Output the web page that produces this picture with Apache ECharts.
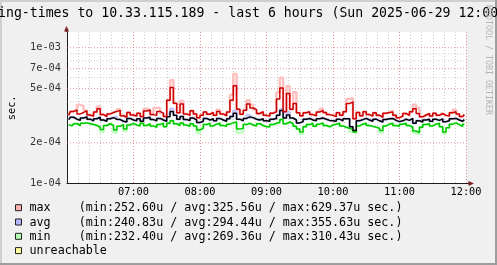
<!DOCTYPE html>
<html><head><meta charset="utf-8">
<script src="https://cdn.jsdelivr.net/npm/echarts@6/dist/echarts.min.js"></script>
<style>html,body{margin:0;padding:0;background:#f0f0f0}#c{width:497px;height:265px}</style>
</head><body><div id="c"></div>
<script>
// sample spacing in minutes from 06:00
const stepMinutes = 3;
// values in microseconds
const maxSeries = [
318,340,348,326,334,344,320,314,336,356,
322,312,326,334,340,346,316,308,334,320,
314,330,312,342,348,322,318,340,330,312,
410,510,390,332,385,326,318,344,326,306,
318,336,324,334,318,340,326,316,336,410,
525,352,324,346,385,360,350,328,338,318,
314,330,338,420,505,338,460,352,388,332,
316,332,338,322,316,336,346,334,322,318,
312,332,318,338,388,400,300,334,316,338,
322,314,332,318,308,330,334,336,318,306,
314,328,318,338,356,328,310,320,328,314,
330,318,328,318,314,332,338,326,312,322];
const avgSeries = [
296,308,298,292,304,310,298,290,300,308,
294,288,300,306,298,296,288,284,302,294,
290,300,288,304,308,296,290,302,294,288,
310,340,318,298,312,296,292,304,294,282,
288,302,294,300,290,302,294,288,300,312,
330,298,290,302,310,306,298,294,300,290,
288,298,302,318,345,304,320,304,294,280,
286,298,302,294,290,300,304,298,292,290,
288,298,290,300,300,262,246,290,296,302,
294,288,298,290,284,296,300,302,292,286,
290,298,292,302,278,290,284,294,298,288,
298,292,300,286,290,300,302,294,288,296];
const minSeries = [
272,266,276,268,278,280,276,272,268,260,
250,268,276,268,248,264,272,252,270,278,
270,266,278,268,276,266,260,272,278,262,
278,290,276,268,280,270,264,276,266,248,
256,272,278,266,274,278,268,264,274,280,
284,252,256,272,278,270,266,276,268,262,
262,272,278,282,296,276,284,276,264,252,
240,262,272,278,264,274,280,268,262,270,
274,278,266,260,256,250,240,266,274,278,
268,264,260,256,246,266,274,278,268,264,
274,278,268,260,244,238,260,272,276,266,
274,278,262,240,258,274,280,272,264,274];
// [sample index, value in µs] where the lighter shade reaches beyond the line
const maxPeaks = [[3,380],[4,372],[9,370],[15,352],[23,356],[26,362],[27,360],[31,575],[34,405],[45,350],[49,450],[50,640],[54,410],[55,380],[63,470],[64,600],[66,520],[68,470],[76,356],[84,420],[85,425],[97,345],[104,380],[105,360],[116,350]];
const avgPeaks = [[14,312],[30,325],[31,355],[50,345],[54,320],[64,352],[66,335]];
const minDips = [[10,240],[14,238],[17,244],[39,236],[51,238],[52,242],[70,232],[85,240],[86,234],[94,238],[104,236],[105,232],[113,234]];

const xTickLabels = ['06:00','07:00','08:00','09:00','10:00','11:00','12:00'];
const yMajorTicks = [1e-4, 2e-4, 5e-4, 7e-4, 1e-3];
const yMajorLabels = ['1e-04','2e-04','5e-04','7e-04','1e-03'];
const yMinorTicks = [3e-4, 4e-4, 6e-4, 8e-4, 9e-4];

const legendNames = ['max','avg','min','unreachable'];
const legendStats = [
  '(min:252.60u / avg:325.56u / max:629.37u sec.)',
  '(min:240.83u / avg:294.44u / max:355.63u sec.)',
  '(min:232.40u / avg:269.36u / max:310.43u sec.)',
  ''];
const legendColors = ['#ffb4b4','#b4b4ff','#b4ffb4','#ffffa0'];

const titleText = 'ing-times to 10.33.115.189 - last 6 hours (Sun 2025-06-29 12:00';
const mono = 'DejaVu Sans Mono';
const xMin = 0, xMax = 360;

function pts(arr){ return arr.map((v,i)=>[i*stepMinutes + stepMinutes/2, v*1e-6]); }
function withOverrides(arr, ov){ const a = arr.slice(); ov.forEach(([i,v])=>{a[i]=v;}); return a; }

const majorGrid = 'rgba(222,80,80,0.6)';
const minorGrid = 'rgba(143,143,143,0.45)';

function lineSeries(data, color, width, z){
  return {type:'line', data, step:'middle', symbol:'none', showSymbol:false, silent:true, z,
    lineStyle:{color, width}, emphasis:{disabled:true}};
}
function gridLine(v, color){
  return {type:'line', data:[[xMin,v],[xMax,v]], symbol:'none', silent:true, z:1,
    lineStyle:{color, width:1, type:[1,2]}, emphasis:{disabled:true}};
}

const chart = echarts.init(document.getElementById('c'), null, {renderer:'canvas'});
const legendGraphics = [];
legendNames.forEach((n,k)=>{
  const cy = 208.2 + k*14.3;
  legendGraphics.push({type:'rect', shape:{x:15.5, y:cy-3.5, width:6, height:6},
    style:{fill:legendColors[k], stroke:'#202020', lineWidth:1}, silent:true});
  legendGraphics.push({type:'text', x:29.5, y:cy, style:{text: legendStats[k] ? n.padEnd(7,' ') + legendStats[k] : n,
    font:'11.7px "DejaVu Sans Mono"', fill:'#000', align:'left', verticalAlign:'middle'}, silent:true});
});

const gridSeries = [];
yMajorTicks.slice(1).forEach(v=>gridSeries.push(gridLine(v, majorGrid)));
yMinorTicks.forEach(v=>gridSeries.push(gridLine(v, minorGrid)));

const yLabelSeries = {type:'scatter', silent:true, z:5, symbolSize:0, clip:false,
  data: yMajorTicks.map((v,k)=>({value:[xMin, v], label:{formatter: yMajorLabels[k]}})),
  label:{show:true, position:'left', distance:6, color:'#000', fontFamily:mono, fontSize:10.3},
  emphasis:{disabled:true}};

chart.setOption({
  animation:false,
  backgroundColor:'#f0f0f0',
  grid:{left:67, top:32, width:399, height:151.7, outerBoundsMode:'none', backgroundColor:'#fff', show:true, borderWidth:0},
  xAxis:{type:'value', min:xMin, max:xMax, interval:60,
    axisLine:{show:true, onZero:false, lineStyle:{color:'#1f1f1f', width:1}},
    axisTick:{show:false},
    axisLabel:{formatter:v=>xTickLabels[Math.round(v/60)], showMinLabel:false, color:'#000', fontFamily:mono, fontSize:10.3, margin:4},
    splitLine:{show:true, lineStyle:{color:majorGrid, type:[1,2], width:1}},
    minorTick:{show:false, splitNumber:6},
    minorSplitLine:{show:true, lineStyle:{color:minorGrid, type:[1,2], width:1}}
  },
  yAxis:{type:'log', logBase:10, min:1e-4, max:1.304e-3,
    axisLine:{show:true, lineStyle:{color:'#1f1f1f', width:1}},
    axisTick:{show:false}, axisLabel:{show:false}, splitLine:{show:false}, minorSplitLine:{show:false},
    name:'sec.', nameLocation:'middle', nameRotate:90, nameGap:50,
    nameTextStyle:{fontFamily:mono, fontSize:10.3, color:'#000'}
  },
  series: gridSeries.concat([
    lineSeries(pts(withOverrides(maxSeries, maxPeaks)), '#ffc0c0', 2.5, 2),
    lineSeries(pts(withOverrides(avgSeries, avgPeaks)), '#c8c8ff', 2.5, 2),
    lineSeries(pts(withOverrides(minSeries, minDips)), '#c0ffc0', 2.5, 2),
    lineSeries(pts(minSeries), '#00c800', 1.5, 3),
    lineSeries(pts(avgSeries), '#000000', 1.5, 3),
    lineSeries(pts(maxSeries), '#cc0000', 1.5, 4),
    yLabelSeries
  ]),
  graphic:[
    {type:'rect', shape:{x:0,y:0,width:497,height:2}, style:{fill:'#cfcfcf'}, silent:true},
    {type:'rect', shape:{x:0,y:0,width:2,height:265}, style:{fill:'#cfcfcf'}, silent:true},
    {type:'rect', shape:{x:495,y:0,width:2,height:265}, style:{fill:'#9e9e9e'}, silent:true},
    {type:'rect', shape:{x:0,y:263,width:497,height:2}, style:{fill:'#9e9e9e'}, silent:true},
    {type:'text', x:-2, y:13.5, style:{text:titleText, font:'13.2px "DejaVu Sans Mono"', fill:'#000', align:'left', verticalAlign:'middle'}, silent:true},
    {type:'text', x:488, y:5, rotation:-Math.PI/2, style:{text:'RRDTOOL / TOBI OETIKER', font:'8.3px "DejaVu Sans Mono"', fill:'#b4b4b4', align:'left', verticalAlign:'middle'}, silent:true},
    {type:'line', shape:{x1:66.5,y1:30,x2:66.5,y2:32}, style:{stroke:'#1f1f1f', lineWidth:1}, silent:true},
    {type:'polygon', shape:{points:[[66.5,26],[64,31.5],[69,31.5]]}, style:{fill:'#7f1f1f'}, silent:true},
    {type:'line', shape:{x1:466,y1:183.5,x2:469,y2:183.5}, style:{stroke:'#1f1f1f', lineWidth:1}, silent:true},
    {type:'polygon', shape:{points:[[474,183.5],[468.5,181],[468.5,186]]}, style:{fill:'#7f1f1f'}, silent:true}
  ].concat(legendGraphics)
});
</script></body></html>
